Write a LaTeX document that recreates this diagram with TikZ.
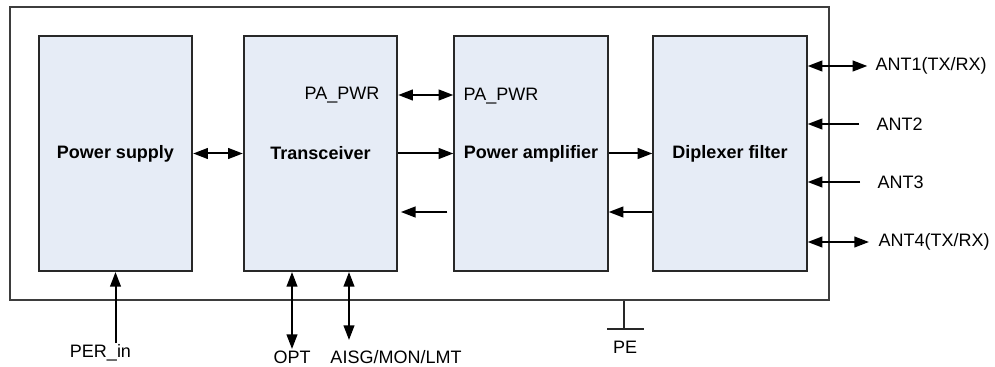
\documentclass[tikz,border=0pt]{standalone}
\usepackage{fontspec}
\setmainfont{Liberation Sans}
\usetikzlibrary{arrows.meta}
\definecolor{boxfill}{RGB}{230,236,246}
\definecolor{edge}{RGB}{40,40,40}
\tikzset{
  block/.style={draw=edge, line width=1.5pt, fill=boxfill, minimum width=115pt,
    minimum height=176.25pt, font=\fontsize{13.5}{16}\selectfont\bfseries},
  lbl/.style={inner sep=1pt, font=\fontsize{13.5}{16}\selectfont},
  sarrow/.style={line width=1.5pt, -{Triangle[length=11pt,width=8pt]}},
  biarrow/.style={line width=1.5pt, {Triangle[length=11pt,width=8pt]}-{Triangle[length=11pt,width=8pt]}}
}
\begin{document}
\begin{tikzpicture}[x=0.75pt, y=-0.75pt]
  \useasboundingbox (0,0) rectangle (995,367);
  % cabinet
  \node[draw=edge!90, line width=1.3pt, minimum width=614.25pt, minimum height=219.75pt] (cab) at (419.5,153.5) {};
  % blocks
  \node[block] (ps)  at (115.5,153.5) {Power supply};
  \node[block] (trx) at (320.5,153.5) {Transceiver};
  \node[block] (pa)  at (531,153.5)   {Power amplifier};
  \node[block] (dpx) at (730,153.5)   {Diplexer filter};
  % inner labels
  \node[lbl, anchor=east] (pwr1) at (381,95) {PA\_PWR};
  \node[lbl, anchor=west] (pwr2) at (462,96) {PA\_PWR};
  \coordinate (lo) at (0,212);
  % inner links
  \draw[biarrow] (ps.east) -- (trx.west);
  \draw[biarrow] (pwr1.east -| trx.east) -- (pwr1.east -| pa.west);
  \draw[sarrow] (trx.east) -- (pa.west);
  \draw[sarrow, shorten <=4.5pt, shorten >=2pt] (pa.west |- lo) -- (trx.east |- lo);
  \draw[sarrow] (pa.east) -- (dpx.west);
  \draw[sarrow] (dpx.west |- lo) -- (pa.east |- lo);
  % antennas
  \node[lbl, anchor=west] (a1) at (874,66)  {ANT1(TX/RX)};
  \node[lbl, anchor=west] (a2) at (875,124) {ANT2};
  \node[lbl, anchor=west] (a3) at (876,182) {ANT3};
  \node[lbl, anchor=west] (a4) at (877,242) {ANT4(TX/RX)};
  \draw[biarrow, shorten >=5pt] (dpx.east |- a1.west) -- (a1.west);
  \draw[sarrow, shorten <=12pt] (a2.west) -- (dpx.east |- a2.west);
  \draw[sarrow, shorten <=12pt] (a3.west) -- (dpx.east |- a3.west);
  \draw[biarrow, shorten >=6pt] (dpx.east |- a4.west) -- (a4.west);
  % bottom ports
  \node[lbl] (perin) at (100.5,353) {PER\_in};
  \node[lbl] (opt)   at (292,357)   {OPT};
  \node[lbl] (aisg)  at (396,357)   {AISG/MON/LMT};
  \coordinate (aisgp) at (349,340);
  \draw[sarrow] (ps.south |- perin.north) -- (ps.south);
  \draw[biarrow] (opt.north) -- (opt.north |- trx.south);
  \draw[biarrow] (aisgp) -- (aisgp |- trx.south);
  % earth
  \node[lbl] (pe) at (625,347) {PE};
  \coordinate (gnd) at (624,329);
  \draw[line width=1.1pt, edge] (gnd |- cab.south) -- (gnd);
  \draw[line width=1.1pt, edge] (gnd) ++(-17,0) -- ++(37,0);
\end{tikzpicture}
\end{document}
